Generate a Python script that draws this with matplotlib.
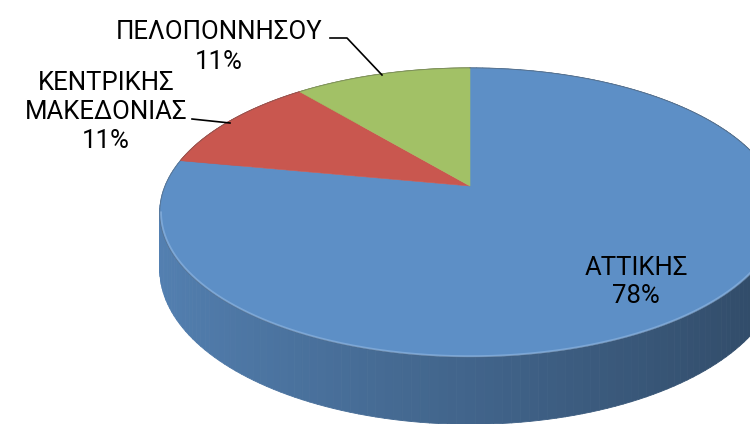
import numpy as np
import matplotlib
matplotlib.use("Agg")
import matplotlib.pyplot as plt
from matplotlib.patches import Polygon
from matplotlib.collections import PolyCollection
from matplotlib.colors import to_rgb

# Regional shares (%)
regions = ["ΑΤΤΙΚΗΣ", "ΚΕΝΤΡΙΚΗΣ\nΜΑΚΕΔΟΝΙΑΣ", "ΠΕΛΟΠΟΝΝΗΣΟΥ"]
shares = [78, 11, 11]
colors = ["#5d8fc6", "#c9574f", "#a2c166"]

plt.rcParams["font.family"] = ["Roboto", "DejaVu Sans"]

W, Hpx = 750, 424
fig = plt.figure(figsize=(W / 100, Hpx / 100), dpi=100)
ax = fig.add_axes([0, 0, 1, 1])
ax.set_xlim(0, W)
ax.set_ylim(Hpx, 0)
ax.axis("off")

# perspective view of a thick disk
CX, CY = 470.0, 186.0   # apex of the top face on screen
RX, RY = 305.0, 139.7   # horizontal / depth scale
K = 0.183               # perspective strength
THICK = 55.0            # disk thickness


def project(phi, r=1.0, depth=0.0):
    """phi measured clockwise from 12 o'clock; depth 0 = top face, 1 = bottom."""
    u = r * np.sin(phi)
    v = r * np.cos(phi)
    w = 1.0 + K * v
    x = CX + RX * u / w
    y = CY - RY * v / w + depth * THICK / w
    return x, y


total = float(sum(shares))
bounds = np.concatenate([[0.0], np.cumsum(shares) / total * 2 * np.pi])

# side wall, far pieces first
quads, qcols, qdepth = [], [], []
for i, col in enumerate(colors):
    base = np.array(to_rgb(col))
    phis = np.linspace(bounds[i], bounds[i + 1], 200)
    for p0, p1 in zip(phis[:-1], phis[1:]):
        x0t, y0t = project(p0)
        x1t, y1t = project(p1)
        x0b, y0b = project(p0, depth=1)
        x1b, y1b = project(p1, depth=1)
        quads.append([(x0t, y0t), (x1t, y1t), (x1b, y1b), (x0b, y0b)])
        um = np.sin(0.5 * (p0 + p1))
        shade = 0.90 - 0.40 * (um + 1) / 2
        qcols.append(tuple(np.clip(base * shade, 0, 1)))
        qdepth.append(np.cos(0.5 * (p0 + p1)))
order = np.argsort(qdepth)[::-1]
wall = PolyCollection([quads[j] for j in order],
                      facecolors=[qcols[j] for j in order],
                      edgecolors=[qcols[j] for j in order], linewidths=0.6)
ax.add_collection(wall)

# top faces
for i, col in enumerate(colors):
    phis = np.linspace(bounds[i], bounds[i + 1], 300)
    xs, ys = project(phis)
    pts = np.column_stack([np.r_[CX, xs], np.r_[CY, ys]])
    ax.add_patch(Polygon(pts, closed=True, facecolor=col, edgecolor=col,
                         linewidth=0.4, zorder=3))

# thin outline on the top rim and a light highlight along the front edge
ring = np.linspace(0, 2 * np.pi, 720)
rx, ry = project(ring)
ax.plot(rx, ry, color="#555555", lw=0.7, alpha=0.4, zorder=4)
front = np.linspace(np.pi - np.arccos(-K) + np.pi / 2 - np.pi / 2, 2 * np.pi - np.arcsin(1.0) + np.arcsin(K), 400)
front = np.linspace(np.pi / 2 + np.arcsin(K), 3 * np.pi / 2 - np.arcsin(K), 400)
fx, fy = project(front, r=0.996)
ax.plot(fx, fy, color="#9cc0e8", lw=1.3, alpha=0.5, zorder=4)

# labels
fs = 18.5
ax.text(636, 282, f"{regions[0]}\n{shares[0]}%", ha="center", va="center",
        fontsize=fs, linespacing=1.2, color="black", zorder=6)
ax.text(106, 112, f"{regions[1]}\n{shares[1]}%", ha="center", va="center",
        fontsize=fs, linespacing=1.28, color="black", zorder=6)
ax.text(219, 47, f"{regions[2]}\n{shares[2]}%", ha="center", va="center",
        fontsize=fs, linespacing=1.28, color="black", zorder=6)

# leader lines
ax.plot([330, 347, 382], [38, 38, 75], color="black", lw=1.2, zorder=6)
ax.plot([192, 230], [119, 123], color="black", lw=1.2, zorder=6)

fig.savefig("out.png", dpi=100)
